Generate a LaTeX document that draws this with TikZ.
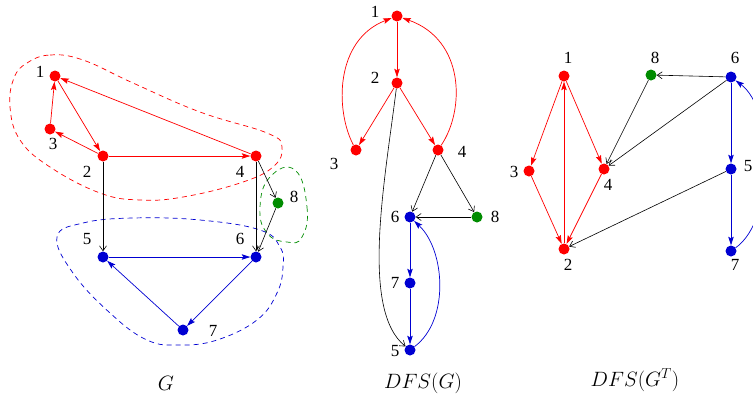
\documentclass[tikz,border=0pt]{standalone}
\usepackage{fontspec}
\setmainfont{Liberation Serif}
\usetikzlibrary{arrows.meta}
\definecolor{cred}{RGB}{255,0,0}
\definecolor{cblue}{RGB}{0,0,210}
\definecolor{cgreen}{RGB}{0,140,0}
\begin{document}
\begin{tikzpicture}[x=1pt,y=-1pt,
  vert/.style={circle,fill,inner sep=0pt,minimum size=11pt},
  rv/.style={vert,cred}, bv/.style={vert,cblue}, gv/.style={vert,cgreen},
  lab/.style={font=\fontsize{17}{20}\selectfont,inner sep=0pt},
  captxt/.style={font=\fontsize{20}{24}\selectfont,inner sep=0pt},
  ra/.style={cred,line width=0.7pt,-{Stealth[length=8.5pt,width=5.5pt,inset=1.5pt]}},
  ba/.style={cblue,line width=0.7pt,-{Stealth[length=8.5pt,width=5.5pt,inset=1.5pt]}},
  ka/.style={black,line width=0.6pt,-{Straight Barb[length=5pt,width=7pt]}},
  hull/.style={line width=0.7pt,dash pattern=on 5pt off 4pt}
]
\clip (0,0) rectangle (753,397);
% ---------------- G ----------------
\draw[hull,cred] plot[smooth cycle,tension=0.7] coordinates {
  (27,63) (50,55) (83,60) (133,83) (200,112) (267,133) (282,147) (273,167)
  (240,183) (183,197) (140,200) (100,193) (50,167) (20,140) (10,107) (14,78)};
\draw[hull,cgreen] plot[smooth cycle,tension=0.8] coordinates {
  (295,170) (307,207) (302,237) (287,242) (267,233) (260,207) (270,177)};
\draw[hull,cblue] plot[smooth cycle,tension=0.7] coordinates {
  (57,237) (83,223) (133,218) (200,220) (260,230) (280,247) (283,267) (277,293)
  (257,320) (217,340) (180,345) (147,340) (110,313) (73,273)};
\node[rv] (a1) at (55,76) {};
\node[rv] (a3) at (50,129) {};
\node[rv] (a2) at (103,156) {};
\node[rv] (a4) at (256,156) {};
\node[gv] (a8) at (278,203) {};
\node[bv] (a5) at (103,257) {};
\node[bv] (a6) at (256,257) {};
\node[bv] (a7) at (183,330) {};
\node[lab] (la1) at (40,72) {1};
\node[lab] (la3) at (53,144) {3};
\node[lab] (la2) at (87,172) {2};
\node[lab] (la4) at (240,172) {4};
\node[lab] (la8) at (294,197) {8};
\node[lab] (la5) at (87,239) {5};
\node[lab] (la6) at (240,239) {6};
\node[lab] (la7) at (213,331) {7};
\draw[ra] (a3) -- (a1);
\draw[ra] (a1) -- (a2);
\draw[ra] (a2) -- (a3);
\draw[ra] (a4) -- (a1);
\draw[ra] (a2) -- (a4);
\draw[ka] (a2) -- (a5);
\draw[ka] (a4) -- (a6);
\draw[ka] (a4) -- (a8);
\draw[ka] (a8) -- (a6);
\draw[ba] (a5) -- (a6);
\draw[ba] (a6) -- (a7);
\draw[ba] (a7) -- (a5);
\node[captxt] (capG) at (166,383) {$G$};
% ---------------- DFS(G) ----------------
\node[rv] (b1) at (397,16) {};
\node[rv] (b2) at (397,83) {};
\node[rv] (b3) at (356,150) {};
\node[rv] (b4) at (438,150) {};
\node[bv] (b6) at (410,217) {};
\node[gv] (b8) at (477,217) {};
\node[bv] (b7) at (410,283) {};
\node[bv] (b5) at (410,350) {};
\node[lab] (lb1) at (375,12) {1};
\node[lab] (lb2) at (375,78) {2};
\node[lab] (lb3) at (334,164) {3};
\node[lab] (lb4) at (462,152) {4};
\node[lab] (lb6) at (395,217) {6};
\node[lab] (lb8) at (495,217) {8};
\node[lab] (lb7) at (395,283) {7};
\node[lab] (lb5) at (395,351) {5};
\draw[ra] (b1) -- (b2);
\draw[ra] (b2) -- (b3);
\draw[ra] (b2) -- (b4);
\draw[ra] (b3) .. controls (335,110) and (335,40) .. (b1);
\draw[ra] (b4) .. controls (465,110) and (465,40) .. (b1);
\draw[ka] (b2) .. controls (385,180) and (360,310) .. (b5);
\draw[ka] (b4) -- (b6);
\draw[ka] (b4) -- (b8);
\draw[ka] (b8) -- (b6);
\draw[ba] (b6) -- (b7);
\draw[ba] (b7) -- (b5);
\draw[ba] (b5) .. controls (450,320) and (445,250) .. (b6);
\node[captxt] (capD) at (423,383) {$DFS(G)$};
% ---------------- DFS(G^T) ----------------
\node[rv] (c1) at (564,76) {};
\node[gv] (c8) at (651,75) {};
\node[bv] (c6) at (731,77) {};
\node[rv] (c3) at (529,171) {};
\node[rv] (c4) at (604,169) {};
\node[bv] (c5) at (731,169) {};
\node[rv] (c2) at (564,249) {};
\node[bv] (c7) at (731,251) {};
\node[lab] (lc1) at (568,58) {1};
\node[lab] (lc8) at (655,58) {8};
\node[lab] (lc6) at (735,58) {6};
\node[lab] (lc3) at (514,172) {3};
\node[lab] (lc4) at (608,185) {4};
\node[lab] (lc5) at (748,166) {5};
\node[lab] (lc2) at (568,265) {2};
\node[lab] (lc7) at (735,265) {7};
\draw[ra] (c1) -- (c3);
\draw[ra] (c1) -- (c4);
\draw[ra] (c3) -- (c2);
\draw[ra] (c4) -- (c2);
\draw[ra] (c2) -- (c1);
\draw[ka] (c6) -- (c8);
\draw[ka] (c8) -- (c4);
\draw[ka] (c6) -- (c4);
\draw[ka] (c5) -- (c2);
\draw[ba] (c6) -- (c5);
\draw[ba] (c5) -- (c7);
\draw[ba] (c7) .. controls (775,220) and (775,110) .. (c6);
\node[captxt] (capT) at (635,380) {$DFS(G^T)$};
\end{tikzpicture}
\end{document}
